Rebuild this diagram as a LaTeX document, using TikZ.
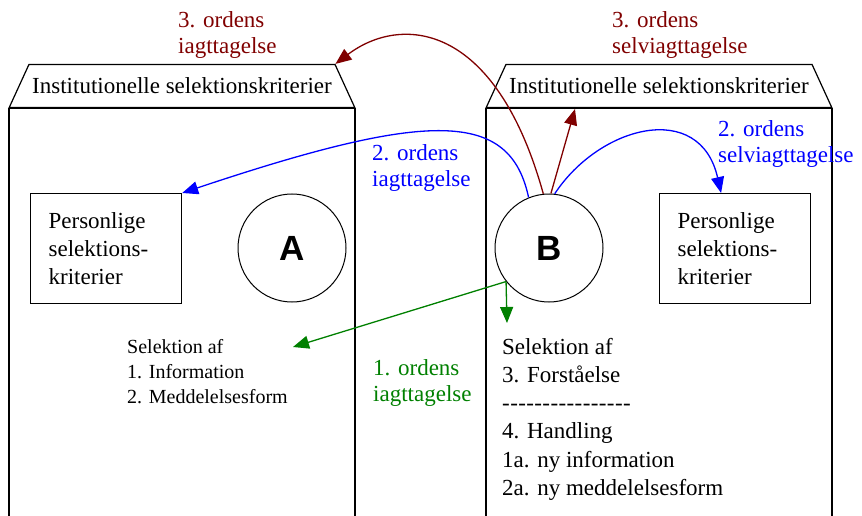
\documentclass[tikz,border=0pt]{standalone}
\usepackage{fontspec}
\setmainfont{Liberation Serif}
\newfontfamily\letterfont{Liberation Sans}
\usetikzlibrary{positioning, arrows.meta, shapes.geometric}
\definecolor{thirdred}{RGB}{128,0,0}
\definecolor{secondblue}{RGB}{0,0,255}
\definecolor{firstgreen}{RGB}{0,128,0}
\newcommand{\hyphenrow}{\foreach \k in {1,...,16}{\mbox{-}\hspace{0.4pt}}}

\begin{document}
\begin{tikzpicture}[
    x=1pt, y=-1pt,
    roof/.style={draw, trapezium, trapezium stretches=true, trapezium left angle=40, trapezium right angle=40, minimum width=347pt, minimum height=43pt, inner sep=0pt, line width=1.2pt, font=\fontsize{23}{27}\selectfont},
    wall/.style={draw, line width=1.2pt, minimum width=346pt, minimum height=440pt, inner sep=0pt},
    critbox/.style={draw, line width=1.2pt, minimum height=110pt, text width=115pt, inner xsep=18pt, inner ysep=0pt, align=left, anchor=north west, font=\fontsize{23}{28}\selectfont},
    person/.style={draw, circle, line width=1pt, minimum size=108pt, font=\letterfont\bfseries\fontsize{35}{35}\selectfont},
    lbl/.style={anchor=west, align=left, inner sep=0pt, font=\fontsize{23}{26}\selectfont},
    thirdorder/.style={-{Triangle[length=16pt, width=13pt]}, line width=1.3pt, thirdred},
    secondorder/.style={-{Triangle[length=16pt, width=13pt]}, line width=1.3pt, secondblue},
    firstorder/.style={-{Triangle[length=16pt, width=13pt]}, line width=1.3pt, firstgreen},
]
    \useasboundingbox (0,0) rectangle (862,516);
    \clip (0,0) rectangle (862,516);

    % Institutions
    \node[roof] (roofL) at (182,86) {Institutionelle selektionskriterier};
    \node[wall, below=0pt of roofL] (wallL) {};
    \node[roof] (roofR) at (659,86) {Institutionelle selektionskriterier};
    \node[wall, below=0pt of roofR] (wallR) {};

    % Persons
    \node[person] (circA) at (292,248) {A};
    \node[person] (circB) at (549,248) {B};

    % Personal criteria
    \node[critbox] (critL) at (30,193) {Personlige\\selektions-\\kriterier};
    \node[critbox] (critR) at (659,193) {Personlige\\selektions-\\kriterier};

    % Selections
    \node[anchor=north west, align=left, inner sep=0pt, font=\fontsize{20}{25}\selectfont] (selL) at (127,339) {Selektion af\\1. Information\\2. Meddelelsesform};
    \node[anchor=north west, align=left, inner sep=0pt, font=\fontsize{23}{28.2}\selectfont] (selR) at (502,338) {Selektion af\\3. Forståelse\\\hyphenrow\\4. Handling\\1a. ny information\\2a. ny meddelelsesform};

    % Labels
    \node[lbl, thirdred] (lblThreeL) at (178,35) {3. ordens\\iagttagelse};
    \node[lbl, thirdred] (lblThreeR) at (612,35) {3. ordens\\selviagttagelse};
    \node[lbl, secondblue] (lblTwoL) at (372,168) {2. ordens\\iagttagelse};
    \node[lbl, secondblue] (lblTwoR) at (718,144) {2. ordens\\selviagttagelse};
    \node[lbl, firstgreen] (lblOne) at (373,383) {1. ordens\\iagttagelse};

    % Free ends
    \coordinate (selfTop) at (575,109);
    \coordinate (selLtip) at (293,347);
    \coordinate (cueDown) at (507,323);

    % Arrows
    \draw[thirdorder] (circB.96) .. controls (495,20) and (400,15) .. (roofL.top right corner);
    \draw[thirdorder] (circB.88) -- (selfTop);
    \draw[secondorder] (circB.112) .. controls (510,110) and (430,110) .. (critL.north east);
    \draw[secondorder] (circB.84) .. controls (600,125) and (700,100) .. ([xshift=-14pt]critR.north);
    \draw[firstorder] (circB.218) -- (selLtip);
    \draw[firstorder] (circB.218) -- (cueDown);

\end{tikzpicture}
\end{document}
